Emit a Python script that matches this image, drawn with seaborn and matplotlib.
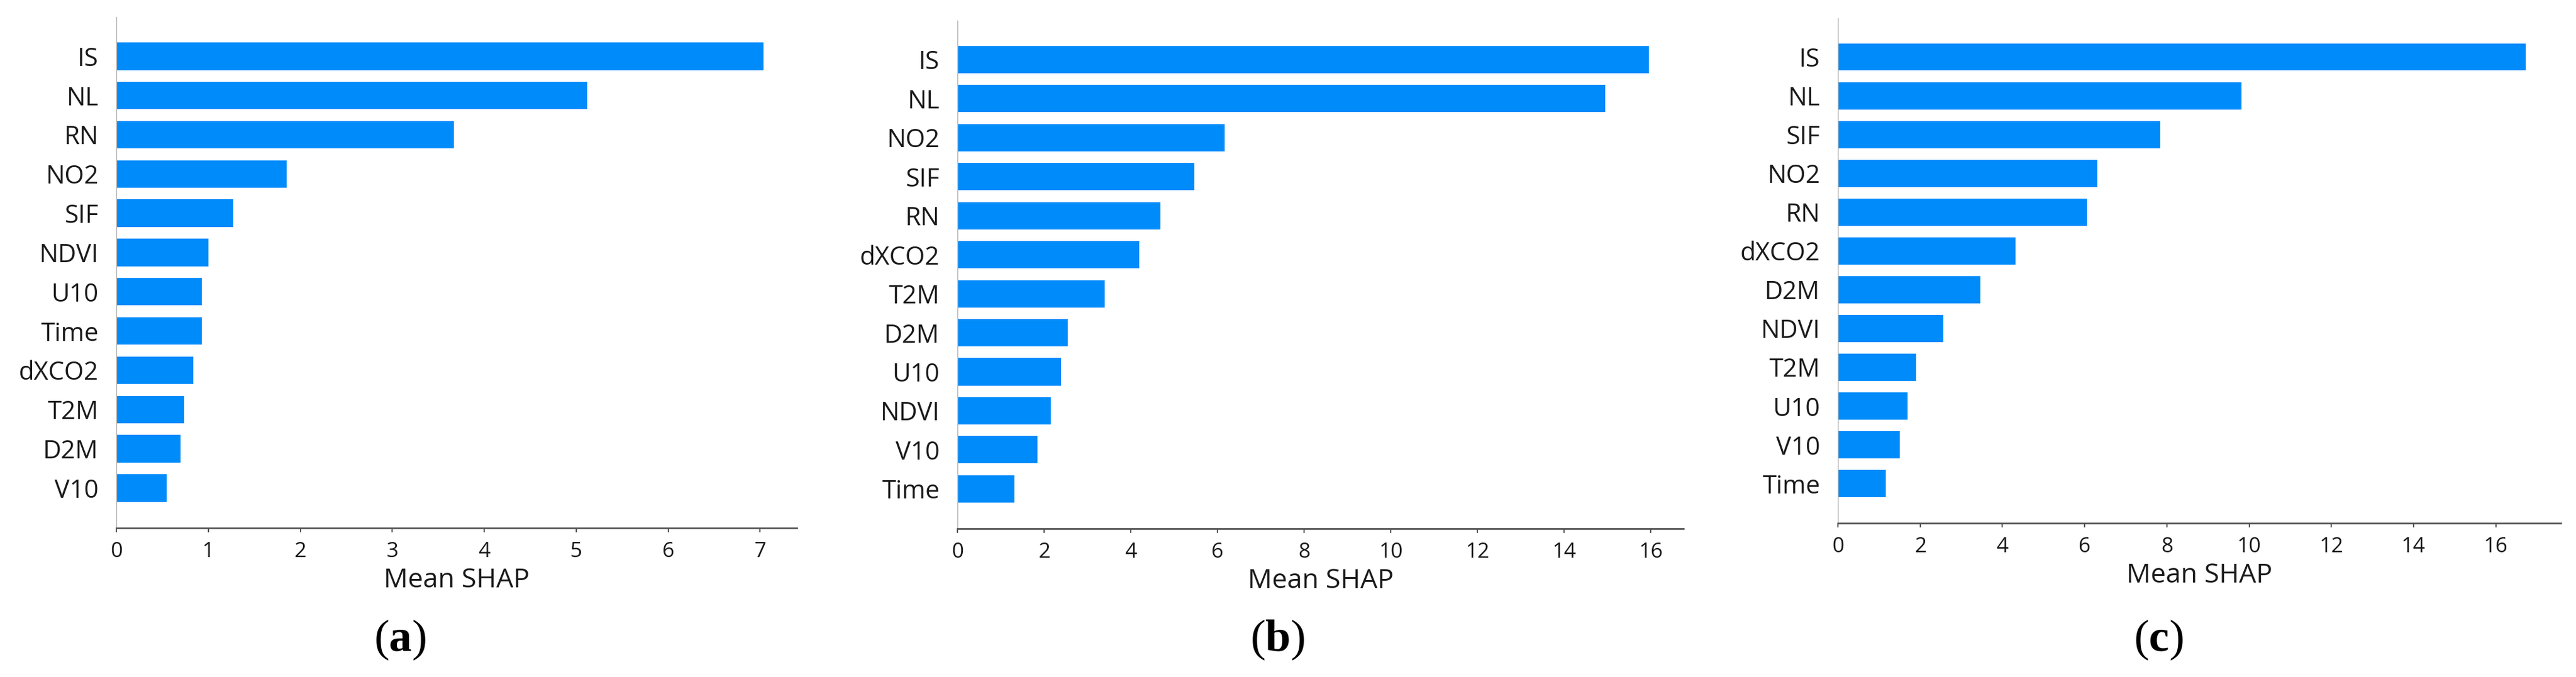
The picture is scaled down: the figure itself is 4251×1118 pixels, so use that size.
import matplotlib
matplotlib.use("Agg")
import matplotlib.pyplot as plt
import seaborn as sns
import pandas as pd

# ---------------- data ----------------
features_a = ["IS", "NL", "RN", "NO2", "SIF", "NDVI", "U10", "Time", "dXCO2", "T2M", "D2M", "V10"]
shap_a = [7.04, 5.12, 3.67, 1.85, 1.27, 1.00, 0.93, 0.93, 0.84, 0.74, 0.70, 0.55]

features_b = ["IS", "NL", "NO2", "SIF", "RN", "dXCO2", "T2M", "D2M", "U10", "NDVI", "V10", "Time"]
shap_b = [15.95, 14.94, 6.16, 5.46, 4.68, 4.20, 3.40, 2.54, 2.39, 2.15, 1.84, 1.31]

features_c = ["IS", "NL", "SIF", "NO2", "RN", "dXCO2", "D2M", "NDVI", "T2M", "U10", "V10", "Time"]
shap_c = [16.72, 9.82, 7.84, 6.31, 6.06, 4.32, 3.46, 2.57, 1.90, 1.69, 1.50, 1.17]

panel_labels = ["a", "b", "c"]
xlabel_text = "Mean SHAP"
xticks_a = [0, 1, 2, 3, 4, 5, 6, 7]
xticks_bc = [0, 2, 4, 6, 8, 10, 12, 14, 16]

# ---------------- style ----------------
sns.set_theme(style="white")
plt.rcParams["font.family"] = ["Open Sans", "DejaVu Sans"]
plt.rcParams["mathtext.fontset"] = "custom"
plt.rcParams["mathtext.rm"] = "Liberation Serif"
plt.rcParams["mathtext.bf"] = "Liberation Serif:bold"

BAR_COLOR = "#008BFB"

W, H = 4251, 1118
fig = plt.figure(figsize=(W / 100, H / 100), dpi=100)

# axes rectangles in pixel coords: left, right, top, bottom
rects = [(192, 1315, 28, 872), (1580, 2778, 34, 873), (3033, 4226, 30, 864)]
xlims = [7.40, 16.75, 17.58]
label_x = [660, 2108, 3562]

panels = [(features_a, shap_a, xticks_a), (features_b, shap_b, xticks_bc), (features_c, shap_c, xticks_bc)]

for i, ((feats, vals, xt), (l, r, t, b)) in enumerate(zip(panels, rects)):
    ax = fig.add_axes([l / W, (H - b) / H, (r - l) / W, (b - t) / H])
    df = pd.DataFrame({"feature": feats, "value": vals})
    sns.barplot(data=df, x="value", y="feature", orient="h", color=BAR_COLOR,
                saturation=1, width=0.7, ax=ax, edgecolor="none")
    ax.set_xlim(0, xlims[i])
    ax.set_ylim(len(feats) - 1 + 1.02, -1.0)
    ax.set_xticks(xt)
    ax.set_xticklabels([str(v) for v in xt])
    ax.set_ylabel("")
    ax.set_xlabel(xlabel_text, fontsize=32, color="#1a1a1a", labelpad=6)
    for s in ["top", "right"]:
        ax.spines[s].set_visible(False)
    ax.spines["left"].set_color("#b0b0b0")
    ax.spines["left"].set_linewidth(1.0)
    ax.spines["bottom"].set_color("#555555")
    ax.spines["bottom"].set_linewidth(2.0)
    ax.tick_params(axis="y", length=0, pad=21, labelsize=30, labelcolor="#1a1a1a")
    ax.tick_params(axis="x", length=5, width=1.5, color="#555555", pad=11,
                   labelsize=25, labelcolor="#1a1a1a", bottom=True)
    ax.grid(False)
    fig.text(label_x[i] / W, 1 - 1057 / H, r"($\mathbf{%s}$)" % panel_labels[i],
             fontsize=54, family="Liberation Serif", ha="center", va="center", color="black")

fig.savefig("out.png", dpi=100, facecolor="white")
